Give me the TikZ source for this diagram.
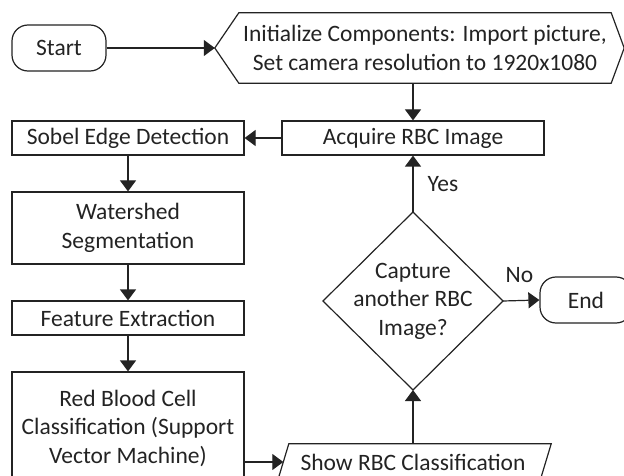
\documentclass[tikz,border=0pt]{standalone}
\usepackage{fontspec}
\setmainfont{Carlito}
\usetikzlibrary{arrows.meta,calc}
\definecolor{ink}{RGB}{35,35,35}
\tikzset{
  every node/.style={font=\fontsize{23.5}{28.5}\selectfont, text=ink, align=center, inner sep=0pt},
  procbox/.style={draw=ink, line width=1.2pt, rectangle},
  termbox/.style={draw=ink, line width=1.2pt, rectangle, rounded corners=16pt},
  outline/.style={draw=ink, line width=1.2pt, line join=miter},
  flow/.style={draw=ink, line width=1.2pt, -{Triangle[length=11pt,width=16pt]}},
  lbl/.style={font=\fontsize{23.5}{26}\selectfont}
}
\begin{document}
\begin{tikzpicture}[x=1pt,y=-1pt]
\useasboundingbox (0,0) rectangle (624,476);
\clip (0,0) rectangle (624,476);

% terminals
\node[termbox, minimum width=94pt, minimum height=46pt] (start) at (59,48) {Start};
\node[termbox, minimum width=92pt, minimum height=46pt] (finish) at (586,300) {End};

% preparation step (hexagon)
\node[minimum width=372pt, minimum height=70pt] (init) at (425,48)
  {Initialize Components: Import picture,\\Set camera resolution to 1920x1080};
\coordinate (initin) at ($(init.west)+(-24,0)$);
\draw[outline] (init.north west) -- (init.north east) -- ($(init.east)+(13,0)$)
  -- (init.south east) -- (init.south west) -- (initin) -- cycle;

% process boxes
\node[procbox, minimum width=262pt, minimum height=34pt] (acq) at (413,138) {Acquire RBC Image};
\node[procbox, minimum width=232pt, minimum height=34pt] (sobel) at (128,138) {Sobel Edge Detection};
\node[procbox, minimum width=232pt, minimum height=72pt] (ws) at (128,228) {Watershed\\Segmentation};
\node[procbox, minimum width=232pt, minimum height=34pt] (feat) at (128,318) {Feature Extraction};
\node[procbox, minimum width=232pt, minimum height=112pt] (svm) at (128,428)
  {Red Blood Cell\\Classification (Support\\Vector Machine)};

% decision
\node (dia) at (413,301) {Capture\\another RBC\\Image?};
\coordinate (diaN) at (413,212);
\coordinate (diaS) at (413,390);
\coordinate (diaW) at (323,301);
\coordinate (diaE) at (503,301);
\draw[outline] (diaN) -- (diaE) -- (diaS) -- (diaW) -- cycle;

% output (parallelogram)
\node[minimum width=258pt, minimum height=36pt] (show) at (413,462) {Show RBC Classification};
\coordinate (showNW) at ($(show.north west)+(5,0)$);
\coordinate (showNE) at ($(show.north east)+(9,0)$);
\coordinate (showSE) at ($(show.south east)+(-2,0)$);
\coordinate (showSW) at ($(show.south west)+(-6,0)$);
\coordinate (showin) at ($(showNW)!0.5!(showSW)$);
\draw[outline] (showNW) -- (showNE) -- (showSE) -- (showSW) -- cycle;

% connectors
\draw[flow] (start.east) -- (initin);
\draw[flow] (acq.north |- init.south) -- (acq.north);
\draw[flow] (acq.west) -- (sobel.east);
\draw[flow] (sobel.south) -- (ws.north);
\draw[flow] (ws.south) -- (feat.north);
\draw[flow] (feat.south) -- (svm.north);
\draw[flow] (svm.east |- showin) -- (showin);
\draw[flow] (show.north) -- (diaS);
\draw[flow] (diaN) -- (acq.south) node[lbl, pos=0.5, anchor=west, xshift=14pt] {Yes};
\draw[flow] (diaE) -- (finish.west) node[lbl, pos=0.45, anchor=center, yshift=26pt] {No};
\end{tikzpicture}
\end{document}
